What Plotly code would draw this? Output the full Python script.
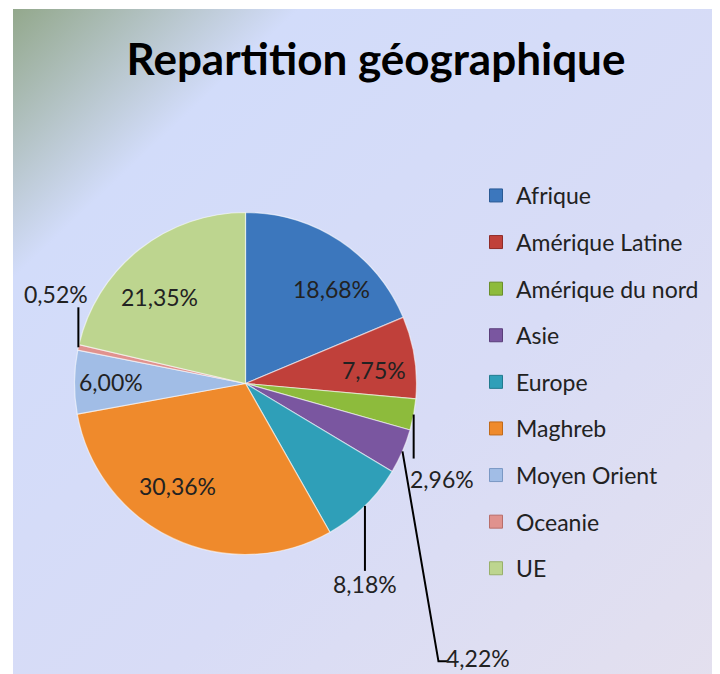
import base64
import numpy as np
import plotly.graph_objects as go

# ---------------- data ----------------
categories = ["Afrique", "Amérique Latine", "Amérique du nord", "Asie", "Europe",
              "Maghreb", "Moyen Orient", "Oceanie", "UE"]
values = [18.68, 7.75, 2.96, 4.22, 8.18, 30.36, 6.00, 0.52, 21.35]
title_text = "Repartition géographique"

# ---------------- style ----------------
colors = ["#3c77bd", "#c0403a", "#8dbb3c", "#7a56a0", "#2f9fb8",
          "#ef8a2c", "#a1bde6", "#e0928e", "#bdd58f"]
edge_colors = ["#2a5a94", "#8f2c28", "#6a8f2a", "#5a3e7a", "#217a8e",
               "#c06a1a", "#7a98c4", "#b86e6a", "#98b06a"]
FONT = "Lato"
W, H = 720, 674
OFF = 8                             # page body margin (screen -> figure pixels)
CX, CY, R = 245.5, 383.5, 171       # pie centre / radius in screen pixels
LABEL_SIZE = 23
# label placement (style): inside labels use radius fraction + nudges,
# outside labels use leader path + text offset (pixels, y down)
inside_frac = 0.75
inside_nudge = {0: (15, 12), 1: (2, 6), 5: (-14, -14), 6: (-6, 0), 8: (-6, 14)}
outside = {
    7: dict(path=[(0, 0), (0, -40)], text=(-22, -53)),
    2: dict(path=[(0, 0), (0, 44)], text=(28, 64)),
    4: dict(path=[(0, 0), (0, 65)], text=(0, 78)),
    3: dict(path=[(0, 0), (36, 210), (45, 210)], text=(76, 207)),
}

# ---------------- geometry from data ----------------
vals = np.array(values, dtype=float)
total = vals.sum()
start = np.concatenate([[0], np.cumsum(vals)[:-1]]) / total * 360.0
mid = np.radians(start + vals / total * 180.0)


def px_x(px):
    return (px - OFF) / W


def px_y(py):
    return 1 - (py - OFF) / H


fig = go.Figure()

fig.add_trace(go.Pie(
    labels=categories, values=values, sort=False, direction="clockwise",
    rotation=0, textinfo="none", showlegend=False, hoverinfo="label+value",
    marker=dict(colors=colors, line=dict(color="rgba(255,255,255,0.55)", width=1.2)),
    domain=dict(x=[px_x(CX - R), px_x(CX + R)], y=[px_y(CY + R), px_y(CY - R)]),
))

# legend via marker-only traces
for cat, c, ec in zip(categories, colors, edge_colors):
    fig.add_trace(go.Scatter(
        x=[None], y=[None], mode="markers", name=cat, legendgroup=cat,
        marker=dict(symbol="square", size=13, color=c, line=dict(color=ec, width=1)),
    ))

annotations = []
shapes = []
for i, (v, a) in enumerate(zip(values, mid)):
    txt = f"{v:.2f}%".replace(".", ",")
    if i in outside:
        ex, ey = CX + R * np.sin(a), CY - R * np.cos(a)
        xa, ya = px_x(ex), px_y(ey)
        pts = outside[i]["path"]
        path = "M" + " L".join(f"{dx},{-dy}" for dx, dy in pts)
        shapes.append(dict(type="path", xref="paper", yref="paper",
                           xsizemode="pixel", ysizemode="pixel",
                           xanchor=xa, yanchor=ya, path=path,
                           line=dict(color="black", width=2)))
        tx, ty = outside[i]["text"]
        annotations.append(dict(x=xa, y=ya, xref="paper", yref="paper",
                                xanchor="center", yanchor="middle",
                                xshift=tx, yshift=-ty, text=txt, showarrow=False,
                                font=dict(family=FONT, size=LABEL_SIZE, color="#222222")))
    else:
        nx, ny = inside_nudge.get(i, (0, 0))
        px = CX + inside_frac * R * np.sin(a) + nx
        py = CY - inside_frac * R * np.cos(a) + ny
        annotations.append(dict(x=px_x(px), y=px_y(py), xref="paper", yref="paper",
                                xanchor="center", yanchor="middle",
                                text=txt, showarrow=False,
                                font=dict(family=FONT, size=LABEL_SIZE, color="#222222")))

svg = ("<svg xmlns='http://www.w3.org/2000/svg' width='715' height='673' preserveAspectRatio='none'>"
       "<defs><linearGradient id='g' x1='0' y1='0' x2='1' y2='1'>"
       "<stop offset='0' stop-color='#93a88c'/>"
       "<stop offset='0.2' stop-color='#d2dcfa'/>"
       "<stop offset='0.6' stop-color='#d8dcf6'/>"
       "<stop offset='1' stop-color='#e4e0ee'/>"
       "</linearGradient></defs><rect width='715' height='673' fill='url(#g)'/></svg>")
src = "data:image/svg+xml;base64," + base64.b64encode(svg.encode()).decode()

fig.update_layout(
    width=W, height=H,
    margin=dict(l=0, r=0, t=0, b=0),
    paper_bgcolor="white", plot_bgcolor="rgba(0,0,0,0)",
    separators=", ",
    title=dict(text=f"<b>{title_text}</b>", x=px_x(376), y=px_y(60),
               xanchor="center", yanchor="middle",
               font=dict(family=FONT, size=44, color="black")),
    xaxis=dict(visible=False), yaxis=dict(visible=False),
    legend=dict(x=px_x(476), y=px_y(174), xanchor="left", yanchor="top",
                bgcolor="rgba(0,0,0,0)", tracegroupgap=13.7,
                font=dict(family=FONT, size=LABEL_SIZE, color="#222222")),
    images=[dict(source=src, xref="paper", yref="paper", x=px_x(13), y=px_y(9),
                 sizex=1 - (13 - OFF) / W, sizey=1 - (9 - OFF) / H, sizing="stretch",
                 xanchor="left", yanchor="top", layer="below")],
    annotations=annotations,
    shapes=shapes,
)

fig.write_html("out.html")
